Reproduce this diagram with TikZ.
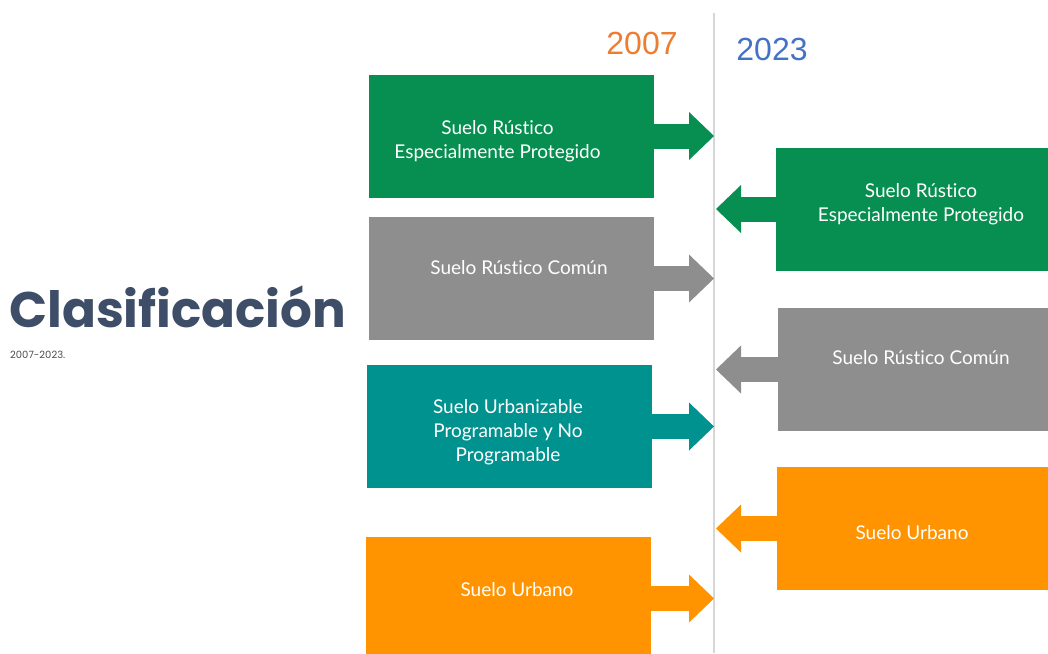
\documentclass[tikz,border=0pt]{standalone}
\usepackage{fontspec}
\setmainfont{Lato}[Ligatures=NoCommon]
\newfontfamily\titlefont{Poppins}
\newfontfamily\yearfont{Liberation Sans}
\usetikzlibrary{arrows.meta}
\definecolor{rustgreen}{RGB}{6,143,80}
\definecolor{rustgrey}{RGB}{142,142,142}
\definecolor{urbteal}{RGB}{0,146,143}
\definecolor{urborange}{RGB}{255,148,0}
\definecolor{oldyear}{RGB}{237,125,49}
\definecolor{newyear}{RGB}{68,114,196}
\definecolor{slate}{RGB}{62,78,104}
\definecolor{lightline}{RGB}{214,214,214}
\tikzset{
    soil/.style={minimum width=285pt,minimum height=123pt,inner sep=0pt},
    soiltext/.style={inner sep=0pt,text=white,align=center,font=\fontsize{19}{24}\selectfont},
    year/.style={inner sep=0pt,font=\yearfont\fontsize{32}{34}\selectfont},
    timeline/.style={draw=lightline,line width=2.5pt},
    toline/.style={line width=25pt,-{Triangle[width=48pt,length=25pt,line width=0pt]}}
}
\begin{document}
\begin{tikzpicture}[x=1pt,y=-1pt]
\useasboundingbox (0,0) rectangle (1048,653);
\clip (0,0) rectangle (1048,653);
% titulo
\node[anchor=base west,inner sep=0pt,text=slate,font=\titlefont\bfseries\fontsize{50}{52}\selectfont] (title) at (9,327) {Clasificación};
\node[anchor=base west,inner sep=0pt,text=black!70,font=\titlefont\fontsize{10}{12}\selectfont] (span) at (10,358) {2007-2023.};
% linea de tiempo
\coordinate (ttop) at (714,13);
\coordinate (tbot) at (714,653);
\draw[timeline] (ttop)--(tbot);
\node[year,text=oldyear] (y07) at (642,43) {2007};
\node[year,text=newyear] (y23) at (772,49) {2023};
% 2007
\node[soil,fill=rustgreen] (l1) at (511.5,136) {};
\node[soil,fill=rustgrey] (l2) at (511,278.5) {};
\node[soil,fill=urbteal] (l3) at (509.5,426.5) {};
\node[soil,fill=urborange] (l4) at (508,598.5) {};
\node[soiltext] (l1t) at (497.5,141) {Suelo Rústico\\Especialmente Protegido};
\node[soiltext] (l2t) at (519,268) {Suelo Rústico Común};
\node[soiltext] (l3t) at (508,432) {Suelo Urbanizable\\Programable y No\\Programable};
\node[soiltext] (l4t) at (517,590) {Suelo Urbano};
% 2023
\node[soil,fill=rustgreen] (r1) at (918.5,209) {};
\node[soil,fill=rustgrey] (r2) at (920.5,369.5) {};
\node[soil,fill=urborange] (r3) at (919.5,528.5) {};
\node[soiltext] (r1t) at (921,204) {Suelo Rústico\\Especialmente Protegido};
\node[soiltext] (r2t) at (921,358) {Suelo Rústico Común};
\node[soiltext] (r3t) at (912,533) {Suelo Urbano};
% flechas
\draw[toline,rustgreen] (l1.east)--(l1.east-|ttop);
\draw[toline,rustgrey] (l2.east)--(l2.east-|ttop);
\draw[toline,urbteal] (l3.east)--(l3.east-|ttop);
\draw[toline,urborange] (l4.east)--(l4.east-|ttop);
\draw[toline,rustgreen] (r1.west)--([xshift=2pt]r1.west-|ttop);
\draw[toline,rustgrey] (r2.west)--([xshift=2pt]r2.west-|ttop);
\draw[toline,urborange] (r3.west)--([xshift=2pt]r3.west-|ttop);
\end{tikzpicture}
\end{document}
